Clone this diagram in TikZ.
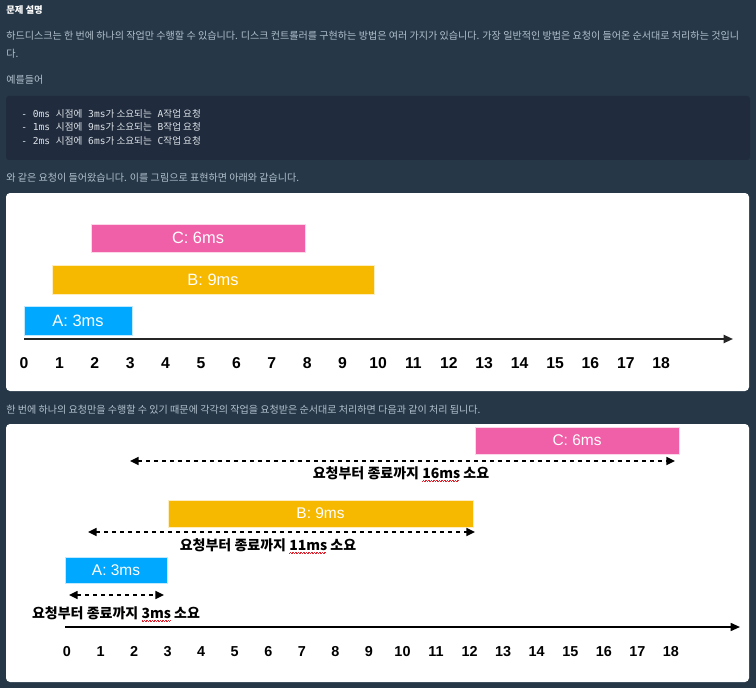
\documentclass[tikz,border=0pt]{standalone}
\usepackage{fontspec}
\setmainfont{Liberation Sans}
\setmonofont{DejaVu Sans Mono}
\newfontfamily\kr{Noto Sans CJK KR}
\usetikzlibrary{arrows.meta,positioning,fit}

\definecolor{pagebg}{HTML}{263747}
\definecolor{codebg}{HTML}{202B3D}
\definecolor{bodytxt}{HTML}{B2C0CC}
\definecolor{codetxt}{HTML}{DDE3E8}
\definecolor{barA}{HTML}{00A8FF}
\definecolor{barB}{HTML}{F7B800}
\definecolor{barC}{HTML}{F060A8}
\definecolor{squig}{HTML}{E0202A}

% red spell-check squiggle under a word
\newcommand\typo[1]{\setbox0=\hbox{#1}\rlap{\raisebox{-2.4pt}{\color{squig}\hbox to \wd0{\leaders\hbox to 1.2pt{\rule{0.5pt}{0.5pt}\hss\rule[0.45pt]{0.5pt}{0.5pt}\hss}\hfill}}}\box0\relax}

\begin{document}
\begin{tikzpicture}[x=0.75pt, y=-0.75pt,
    para/.style={anchor=west, inner sep=0, text=bodytxt, font=\kr\fontsize{7.55}{14}\selectfont},
    codeln/.style={anchor=west, inner sep=0, text=codetxt, font=\fontsize{7.2}{8}\selectfont},
    bar/.style={inner sep=0, outer sep=0, draw=white!75!#1, line width=0.4pt, fill=#1},
    barlbl/.style={text=white, inner sep=0, font=\fontsize{#1}{#1}\selectfont},
    tick/.style={inner sep=0, anchor=base, font=\bfseries\fontsize{#1}{#1}\selectfont},
    timeline/.style={line width=#1, -{Triangle[length=7pt,width=6pt]}},
    span/.style={dashed, dash pattern=on 3pt off 3pt, line width=1.1pt,
        {Triangle[length=6.5pt,width=6pt]}-{Triangle[length=6.5pt,width=6pt]}},
    spanlbl/.style={inner sep=0, font=\kr\bfseries\fontsize{10.5}{12}\selectfont}]

    \useasboundingbox[fill=pagebg] (0,0) rectangle (756,688);

    % header text
    \node[para, text=white, font=\kr\bfseries\fontsize{7}{9}\selectfont] (title) at (6,10) {문제 설명};
    \node[para, anchor=north west, align=left] (intro) at (6,30.5)
        {하드디스크는 한 번에 하나의 작업만 수행할 수 있습니다. 디스크 컨트롤러를 구현하는 방법은 여러 가지가 있습니다. 가장 일반적인 방법은 요청이 들어온 순서대로 처리하는 것입니\\다.};
    \node[para] (example) at (6,80) {예를들어};

    % code block
    \fill[codebg, rounded corners=2] (6,96) rectangle (750,160);
    \node[codeln] (req1) at (21,114) {\ttfamily - 0ms {\kr 시점에} 3ms{\kr 가 소요되는} A{\kr 작업 요청}};
    \node[codeln] (req2) at (21,127) {\ttfamily - 1ms {\kr 시점에} 9ms{\kr 가 소요되는} B{\kr 작업 요청}};
    \node[codeln] (req3) at (21,141) {\ttfamily - 2ms {\kr 시점에} 6ms{\kr 가 소요되는} C{\kr 작업 요청}};

    \node[para] (lead1) at (6,178) {와 같은 요청이 들어왔습니다. 이를 그림으로 표현하면 아래와 같습니다.};

    % first figure: requests as they arrive
    \fill[white, rounded corners=3] (6,193) rectangle (749,391);
    \node[bar=barC, fit={(91,224) (305,252)}] (reqC) {};
    \node[bar=barB, fit={(52,265) (374,294)}] (reqB) {};
    \node[bar=barA, fit={(24,306) (132,335)}] (reqA) {};
    \node[barlbl=12.3] (reqCl) at (reqC) {C: 6ms};
    \node[barlbl=12.3] (reqBl) at (reqB) {B: 9ms};
    \node[barlbl=12.3] (reqAl) at (reqA) {A: 3ms};
    \coordinate (axA0) at (24,339);
    \coordinate (axA1) at (733,339);
    \draw[timeline=1.5pt, black!85] (axA0) -- (axA1);
    \foreach \i in {0,...,18}
        \node[tick=11.8] (ta\i) at ({24+35.4*\i},368.5) {\i};

    \node[para] (lead2) at (6,410) {한 번에 하나의 요청만을 수행할 수 있기 때문에 각각의 작업을 요청받은 순서대로 처리하면 다음과 같이 처리 됩니다.};

    % second figure: processed in order
    \fill[white, rounded corners=3] (6,424) rectangle (749,682);
    \node[bar=barC, fit={(475,427) (679,454)}] (runC) {};
    \node[bar=barB, fit={(168,500) (473,527)}] (runB) {};
    \node[bar=barA, fit={(65,557) (167,583)}] (runA) {};
    \node[barlbl=11.6] (runCl) at (runC) {C: 6ms};
    \node[barlbl=11.6] (runBl) at (runB) {B: 9ms};
    \node[barlbl=11.6] (runAl) at (runA) {A: 3ms};

    \coordinate (spC0) at (130,461);
    \coordinate (spC1) at (675,461);
    \coordinate (spB0) at (88,532);
    \coordinate (spB1) at (475,532);
    \coordinate (spA0) at (69,595);
    \coordinate (spA1) at (164,595);
    \draw[span] (spC0) -- (spC1);
    \draw[span] (spB0) -- (spB1);
    \draw[span] (spA0) -- (spA1);
    \node[spanlbl] (spCl) at (401,474) {요청부터 종료까지 \typo{16ms} 소요};
    \node[spanlbl] (spBl) at (268,546) {요청부터 종료까지 \typo{11ms} 소요};
    \node[spanlbl] (spAl) at (116,614) {요청부터 종료까지 \typo{3ms} 소요};

    \coordinate (axB0) at (65,627);
    \coordinate (axB1) at (740,627);
    \draw[timeline=1.2pt, black] (axB0) -- (axB1);
    \foreach \i in {0,...,18}
        \node[tick=10.8] (tb\i) at ({67+33.55*\i},656) {\i};
\end{tikzpicture}
\end{document}
